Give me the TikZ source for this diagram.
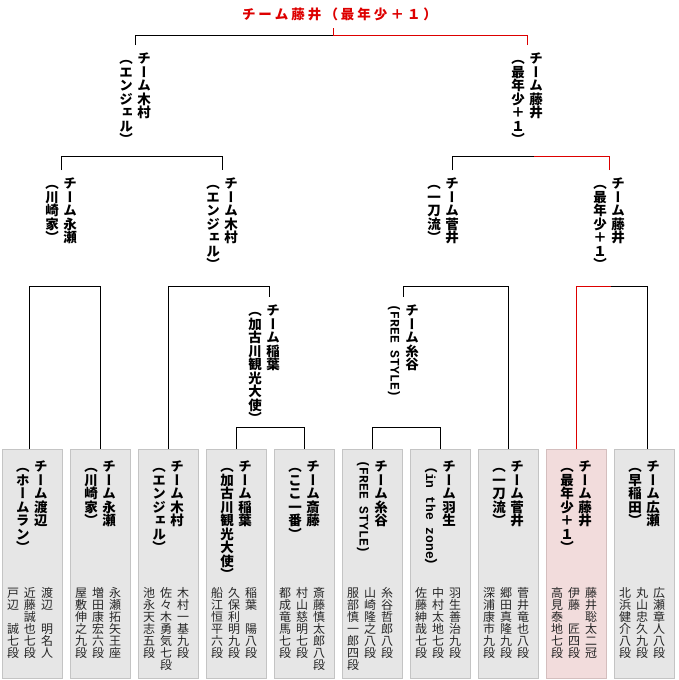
\documentclass[tikz,border=0pt]{standalone}
\usepackage{fontspec}
\newfontfamily\tatefont[RawFeature=+vert]{Noto Sans CJK JP}
\newfontfamily\yokofont{Noto Sans CJK JP}
\newfontfamily\monofont{Liberation Mono}
\usetikzlibrary{positioning}
\definecolor{cellfill}{HTML}{E6E6E6}
\definecolor{cellline}{HTML}{C4C4C4}
\definecolor{winfill}{HTML}{F2DCDC}
\definecolor{winline}{HTML}{D4BEBE}
\definecolor{winred}{HTML}{DD0000}
% one character per line, columns read top to bottom
\newcommand{\tate}[1]{\vtop{\baselineskip=1em\lineskiplimit=-\maxdimen\lineskip=0pt\tateloop#1\relax}}
\def\tateloop#1{\ifx\relax#1\else\hbox to 1em{\vrule height .88em depth .12em width 0pt\hss#1\hss}\expandafter\tateloop\fi}
% latin text turned on its side
\newcommand{\yoko}[1]{\hbox to 1em{\hss\raisebox{.88em}{\rotatebox{-90}{\fontsize{13}{13}\selectfont\monofont\bfseries #1}}\hss}}
\newcommand{\spaced}[1]{\spacedloop#1\relax}
\def\spacedloop#1{\ifx\relax#1\else#1\kern3pt\expandafter\spacedloop\fi}

\begin{document}
\begin{tikzpicture}[x=1pt,y=-1pt,line width=1pt,
  win/.style={draw=winred},
  cell/.style={draw=cellline, fill=cellfill, line width=0.8pt, minimum width=60pt, minimum height=229pt, inner sep=0pt},
  wincell/.style={cell, draw=winline, fill=winfill},
  lbl/.style={font=\fontsize{13.5}{13.5}\selectfont\tatefont\bfseries, inner sep=0pt, anchor=north},
  seed/.style={lbl, outer ysep=7pt},
  cast/.style={font=\fontsize{12}{12}\selectfont\tatefont, text=black!85, inner sep=0pt, anchor=north}]
\useasboundingbox (0,0) rectangle (679,680);

% teams
\foreach \k in {1,...,8,10}
  \node[cell] (b\k) at ({32+68*(\k-1)},563.5) {};
\node[wincell] (b9) at (576,563.5) {};

\node[lbl] (t1) at ([yshift=-11pt]b1.north) {\tate{（ホームラン）}\hspace{4.5pt}\tate{チーム渡辺}};
\node[lbl] (t2) at ([yshift=-11pt]b2.north) {\tate{（川崎家）}\hspace{4.5pt}\tate{チーム永瀬}};
\node[lbl] (t3) at ([yshift=-11pt]b3.north) {\tate{（エンジェル）}\hspace{4.5pt}\tate{チーム木村}};
\node[lbl] (t4) at ([yshift=-11pt]b4.north) {\tate{（加古川観光大使）}\hspace{4.5pt}\tate{チーム稲葉}};
\node[lbl] (t5) at ([yshift=-11pt]b5.north) {\tate{（ここ一番）}\hspace{4.5pt}\tate{チーム斎藤}};
\node[lbl] (t6) at ([yshift=-11pt]b6.north) {\yoko{(FREE STYLE)}\hspace{4.5pt}\tate{チーム糸谷}};
\node[lbl] (t7) at ([yshift=-11pt]b7.north) {\yoko{{\yokofont （}in the zone{\yokofont ）}}\hspace{4.5pt}\tate{チーム羽生}};
\node[lbl] (t8) at ([yshift=-11pt]b8.north) {\tate{（一刀流）}\hspace{4.5pt}\tate{チーム菅井}};
\node[lbl] (t9) at ([yshift=-11pt]b9.north) {\tate{（最年少＋１）}\hspace{4.5pt}\tate{チーム藤井}};
\node[lbl] (t10) at ([yshift=-11pt]b10.north) {\tate{（早稲田）}\hspace{4.5pt}\tate{チーム広瀬}};

\node[cast] (p1) at ([xshift=-2pt,yshift=-138pt]b1.north) {\tate{戸辺　誠七段}\hspace{5pt}\tate{近藤誠也七段}\hspace{5pt}\tate{渡辺　明名人}};
\node[cast] (p2) at ([xshift=-2pt,yshift=-138pt]b2.north) {\tate{屋敷伸之九段}\hspace{5pt}\tate{増田康宏六段}\hspace{5pt}\tate{永瀬拓矢王座}};
\node[cast] (p3) at ([xshift=-2pt,yshift=-138pt]b3.north) {\tate{池永天志五段}\hspace{5pt}\tate{佐々木勇気七段}\hspace{5pt}\tate{木村一基九段}};
\node[cast] (p4) at ([xshift=-2pt,yshift=-138pt]b4.north) {\tate{船江恒平六段}\hspace{5pt}\tate{久保利明九段}\hspace{5pt}\tate{稲葉　陽八段}};
\node[cast] (p5) at ([xshift=-2pt,yshift=-138pt]b5.north) {\tate{都成竜馬七段}\hspace{5pt}\tate{村山慈明七段}\hspace{5pt}\tate{斎藤慎太郎八段}};
\node[cast] (p6) at ([xshift=-2pt,yshift=-138pt]b6.north) {\tate{服部慎一郎四段}\hspace{5pt}\tate{山崎隆之八段}\hspace{5pt}\tate{糸谷哲郎八段}};
\node[cast] (p7) at ([xshift=-2pt,yshift=-138pt]b7.north) {\tate{佐藤紳哉七段}\hspace{5pt}\tate{中村太地七段}\hspace{5pt}\tate{羽生善治九段}};
\node[cast] (p8) at ([xshift=-2pt,yshift=-138pt]b8.north) {\tate{深浦康市九段}\hspace{5pt}\tate{郷田真隆九段}\hspace{5pt}\tate{菅井竜也八段}};
\node[cast] (p9) at ([xshift=-2pt,yshift=-138pt]b9.north) {\tate{高見泰地七段}\hspace{5pt}\tate{伊藤　匠四段}\hspace{5pt}\tate{藤井聡太二冠}};
\node[cast] (p10) at ([xshift=-2pt,yshift=-138pt]b10.north) {\tate{北浜健介八段}\hspace{5pt}\tate{丸山忠久九段}\hspace{5pt}\tate{広瀬章人八段}};

% winners
\node[seed] (kimura2) at (135,45) {\tate{（エンジェル）}\hspace{4.5pt}\tate{チーム木村}};
\node[seed] (fujii2) at (527,45) {\tate{（最年少＋１）}\hspace{4.5pt}\tate{チーム藤井}};
\node[seed] (nagase3) at (61,170) {\tate{（川崎家）}\hspace{4.5pt}\tate{チーム永瀬}};
\node[seed] (kimura3) at (222,170) {\tate{（エンジェル）}\hspace{4.5pt}\tate{チーム木村}};
\node[seed] (sugai3) at (443,170) {\tate{（一刀流）}\hspace{4.5pt}\tate{チーム菅井}};
\node[seed] (fujii3) at (609,170) {\tate{（最年少＋１）}\hspace{4.5pt}\tate{チーム藤井}};
\node[seed] (inaba4) at (264,297) {\tate{（加古川観光大使）}\hspace{4.5pt}\tate{チーム稲葉}};
\node[seed] (itoya4) at (403,297) {\yoko{(FREE STYLE)}\hspace{4.5pt}\tate{チーム糸谷}};
\node[font=\fontsize{13.5}{13.5}\selectfont\yokofont\bfseries, text=winred, inner sep=0pt, outer ysep=7pt] (champ) at (341,14) {\spaced{チーム藤井（最年少＋１）}};

% brackets
\draw (b4.north) -- ++(0,-21) -| (b5.north);
\draw (b6.north) -- ++(0,-21) -| (b7.north);
\draw ([xshift=-3pt]b1.north) -- ++(0,-162) -| (b2.north);
\draw (b3.north) -- ++(0,-162) -| ([xshift=5pt]inaba4.north);
\draw (b8.north) -- ++(0,-162) -| (itoya4.north);
\draw (b9.north) -- ++(0,-162) -| ([xshift=3pt]b10.north);
\draw[win] (b9.north) -- ++(0,-162) -- ++(35,0);
\draw (nagase3.north) -- ++(0,-14) -| (kimura3.north);
\draw ([xshift=9pt]sugai3.north) -- ++(0,-14) -| (fujii3.north);
\draw[win] (fujii3.north) -- ++(0,-14) -- ++(-75,0);
\draw (kimura2.north) -- ++(0,-10) -| (fujii2.north);
\draw[win] (fujii2.north) -- ++(0,-10) -| ([xshift=-8pt]champ.south);
\end{tikzpicture}
\end{document}
